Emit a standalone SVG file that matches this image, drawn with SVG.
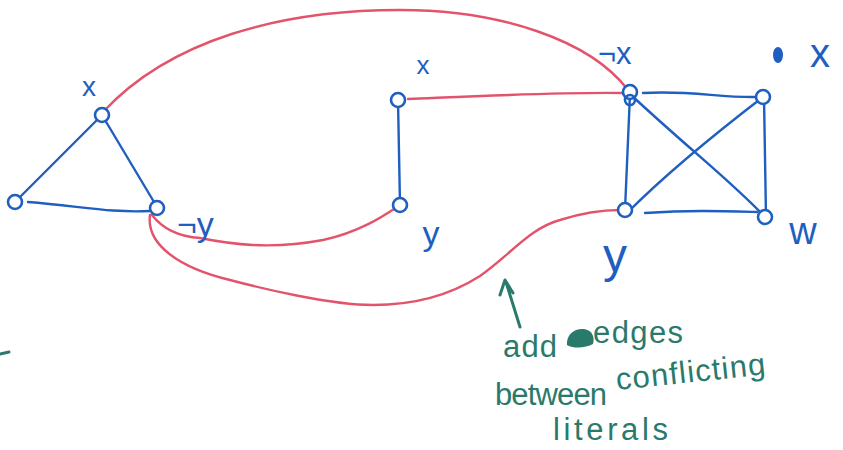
<svg xmlns="http://www.w3.org/2000/svg" width="843" height="450" viewBox="0 0 843 450">
<style>
.blue{fill:none;stroke:#1f5fbf;stroke-width:2.4;stroke-linecap:round;stroke-linejoin:round}
.red{fill:none;stroke:#e3546c;stroke-width:2.4;stroke-linecap:round}
.node{fill:#fff;stroke:#1f5fbf;stroke-width:2.6}
.lbl{font-family:"Liberation Sans",Arial,sans-serif;fill:#1f5fbf}
.note{font-family:"Liberation Sans",Arial,sans-serif;fill:#2a7a6c;font-size:31px}
.green{fill:none;stroke:#2a7a6c;stroke-width:3;stroke-linecap:round;stroke-linejoin:round}
</style>
<rect width="843" height="450" fill="#fff"/>
<g id="connectors">
  <path class="blue" d="M102,115 L15,202"/>
  <path class="blue" d="M102,115 L157,207"/>
  <path class="blue" d="M28,202 C80,206 110,213 150,211"/>
  <path class="blue" d="M398,100 L400,205"/>
  <path class="blue" d="M643,93 C690,90 720,98 757,97"/>
  <path class="blue" d="M630,94 L625,210"/>
  <path class="blue" d="M630,94 C690,150 730,180 765,217"/>
  <path class="blue" d="M763,97 C720,130 670,170 628,212"/>
  <path class="blue" d="M764,97 L766,217"/>
  <path class="blue" d="M645,213 C690,210 720,211 757,212"/>
  <path class="red" d="M103,112 C170,40 280,10 400,10 C500,10 590,40 628,90"/>
  <path class="red" d="M408,99 C480,96 560,92 623,93"/>
  <path class="red" d="M152,215 C165,232 185,237 200,238 C230,244 270,250 323,240 C360,232 385,215 397,207"/>
  <path class="red" d="M150,215 C146,245 180,268 230,280 C260,288 330,305 373,305 C420,305 455,292 480,276 C510,255 530,228 560,220 C585,212 605,210 620,210"/>
</g>
<g id="n-x1"><circle class="node" cx="102" cy="115" r="7"/></g>
<g id="n-o1"><circle class="node" cx="15" cy="202" r="7"/></g>
<g id="n-ny1"><circle class="node" cx="157" cy="208" r="7"/></g>
<g id="n-x2"><circle class="node" cx="398" cy="100" r="7"/></g>
<g id="n-y2"><circle class="node" cx="400" cy="205" r="7"/></g>
<g id="n-nx3"><circle class="node" cx="630" cy="92" r="7"/><circle class="node" cx="630" cy="100" r="5" style="fill:none"/></g>
<g id="n-x3"><circle class="node" cx="763" cy="97" r="7"/></g>
<g id="n-y3"><circle class="node" cx="625" cy="210" r="7"/></g>
<g id="n-w3"><circle class="node" cx="765" cy="217" r="7"/></g>
<g id="labels">
  <text class="lbl" x="89" y="96" font-size="28" text-anchor="middle">x</text>
  <text class="lbl" x="177" y="236" font-size="34">¬y</text>
  <text class="lbl" x="423" y="74" font-size="26" text-anchor="middle">x</text>
  <text class="lbl" x="431" y="245" font-size="34" text-anchor="middle">y</text>
  <text class="lbl" x="598" y="64" font-size="31">¬x</text>
  <ellipse cx="778" cy="55" rx="5" ry="8" fill="#1f5fbf"/>
  <text class="lbl" x="820" y="67" font-size="40" text-anchor="middle">x</text>
  <text class="lbl" x="615" y="272" font-size="48" text-anchor="middle">y</text>
  <text class="lbl" x="803" y="244" font-size="38" text-anchor="middle">w</text>
</g>
<g id="note">
  <path class="green" d="M520,327 L506,282 M500,295 L505,280 L513,293"/>
  <path class="green" d="M0,354 L9,352"/>
  <text class="note" x="503" y="357" textLength="54">add</text>
  <path d="M567,345 C566,334 575,328 584,329 C592,330 595,337 593,344 C586,348 574,349 567,345 Z" fill="#2a7a6c"/>
  <text class="note" x="593" y="343" textLength="90">edges</text>
  <text class="note" x="495" y="405" textLength="112">between</text>
  <text class="note" x="617" y="390" transform="rotate(-6 617 390)" textLength="150">conflicting</text>
  <text class="note" x="553" y="440" textLength="115">literals</text>
</g>
</svg>
